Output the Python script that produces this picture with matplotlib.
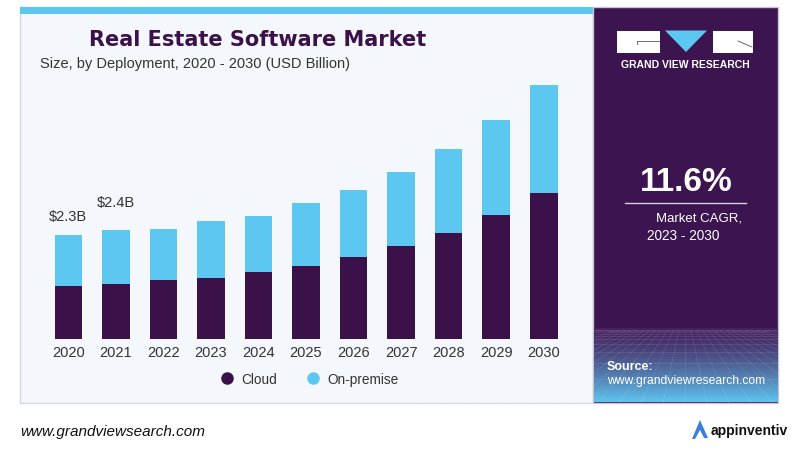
"""
Real Estate Software Market 柱状堆叠图 (Grand View Research 风格)
"""
import matplotlib
matplotlib.use("Agg")
import matplotlib.pyplot as plt
from matplotlib.patches import Rectangle, Polygon
from matplotlib.lines import Line2D
import numpy as np

# 数据
years = ["2020", "2021", "2022", "2023", "2024", "2025",
         "2026", "2027", "2028", "2029", "2030"]
cloud = [1.16, 1.22, 1.30, 1.35, 1.49, 1.62, 1.80, 2.05, 2.35, 2.74, 3.22]
on_premise = [1.14, 1.19, 1.13, 1.25, 1.23, 1.38, 1.48, 1.63, 1.84, 2.09, 2.39]
value_labels = {0: "$2.3B", 1: "$2.4B"}

DARK = "#3a1149"
BLUE = "#5cc8f2"
PANEL = "#f4f7fb"
W, H = 800, 456

plt.rcParams['font.family'] = ['Liberation Sans', 'DejaVu Sans']

fig = plt.figure(figsize=(8, 4.56), dpi=100)
fig.patch.set_facecolor("white")

# 背景坐标系, 像素坐标
bg = fig.add_axes([0, 0, 1, 1])
bg.set_xlim(0, W)
bg.set_ylim(H, 0)
bg.axis("off")

# 左侧浅色面板
bg.add_patch(Rectangle((20, 8), 573, 396, facecolor=PANEL, edgecolor="#d5d9de", lw=1))
bg.add_patch(Rectangle((20, 8), 573, 6.5, facecolor=BLUE, edgecolor="none"))

# 右侧深色面板 + 底部渐变
bg.add_patch(Rectangle((593, 8), 185, 396, facecolor="#3b1450", edgecolor="#c9c3d6", lw=1))
grad = np.linspace(0, 1, 100).reshape(-1, 1)
c0 = np.array([0x44, 0x22, 0x5e]) / 255
c1 = np.array([0x5e, 0xc4, 0xee]) / 255
img = c0[None, None, :] * (1 - grad[:, :, None] ** 1.3) + c1[None, None, :] * grad[:, :, None] ** 1.3
bg.imshow(img, extent=(593.5, 777.5, 403.5, 330), aspect="auto", zorder=2)
# 网格纹理
for k in range(-12, 14):
    bg.plot([685 + k * 6, 685 + k * 22], [332, 404], color="white", alpha=0.12, lw=0.5, zorder=3)
for yy in np.geomspace(1, 74, 12):
    bg.plot([594, 777], [330 + yy, 330 + yy], color="white", alpha=0.12, lw=0.5, zorder=3)

# GVR 标志
bg.add_patch(Rectangle((617, 31.5), 43, 22, facecolor="white", edgecolor="none", zorder=4))
bg.add_patch(Polygon([[665, 31.5], [707, 31.5], [686, 53]], facecolor=BLUE, edgecolor="none", zorder=4))
bg.add_patch(Rectangle((713, 31.5), 40, 22, facecolor="white", edgecolor="none", zorder=4))
bg.plot([637, 659], [42, 42], color="#555555", lw=0.6, zorder=5)
bg.plot([637, 637], [42, 45], color="#555555", lw=0.6, zorder=5)
bg.plot([738, 752], [42, 48], color="#555555", lw=0.6, zorder=5)
bg.text(685, 64.5, "GRAND VIEW RESEARCH", color="white", fontsize=7.5, fontweight="bold",
        ha="center", va="center", zorder=5)

# CAGR
bg.text(686, 183, "11.6%", color="white", fontsize=24, fontweight="bold",
        ha="center", va="center", zorder=5)
bg.plot([625, 746], [204, 204], color="#d8d0e0", lw=1, zorder=5)
bg.text(742, 218.5, "Market CAGR,", color="white", fontsize=9.5, ha="right", va="center", zorder=5)
bg.text(647, 236, "2023 - 2030", color="white", fontsize=9.8, ha="left", va="center", zorder=5)

# 来源
bg.text(607, 367, "Source:", color="white", fontsize=9, fontweight="bold", ha="left", va="center", zorder=5)
bg.text(607, 381, "www.grandviewresearch.com", color="white", fontsize=8.7, ha="left", va="center", zorder=5)

# 标题
bg.text(258, 40, "Real Estate Software Market", color=DARK, fontsize=15, fontweight="heavy",
        family=["DejaVu Sans"], ha="center", va="center")
bg.text(40, 64, "Size, by Deployment, 2020 - 2030 (USD Billion)", color="#333333", fontsize=10.5,
        ha="left", va="center")

# 底部
bg.text(20, 432, "www.grandviewsearch.com", color="#111111", fontsize=11, style="italic",
        ha="left", va="center")
bg.add_patch(Polygon([[700, 421], [708, 439], [704, 439], [700, 431], [695, 440], [692, 440]],
                     facecolor="#3d7fe0", edgecolor="none"))
bg.text(711, 431, "appinventiv", color="#111111", fontsize=10, fontweight="bold",
        ha="left", va="center")

# 柱状图坐标系
pitch = 47.55
left_px = 68.3 - 0.75 * pitch
right_px = 543.8 + 0.75 * pitch
base_px = 340
scale = 45.3
ymax = 6.5
top_px = base_px - ymax * scale
ax = fig.add_axes([left_px / W, (H - base_px) / H, (right_px - left_px) / W, (base_px - top_px) / H])
ax.set_facecolor("none")
ax.set_xlim(-0.75, 10.75)
ax.set_ylim(0, ymax)

x = np.arange(len(years))
ax.bar(x, cloud, width=0.58, color=DARK, zorder=3)
ax.bar(x, on_premise, bottom=cloud, width=0.58, color=BLUE, zorder=3)

for i, lab in value_labels.items():
    tot = cloud[i] + on_premise[i]
    ax.text(i, tot + 0.42 if i == 0 else tot + 0.62, lab, fontsize=10.5, color="#333333",
            ha="center", va="center")

ax.set_xticks(x)
ax.set_xticklabels(years, fontsize=10.5, color="#333333")
ax.tick_params(axis="x", length=0, pad=4)
ax.set_yticks([])
for s in ax.spines.values():
    s.set_visible(False)

# 图例
handles = [Line2D([], [], marker="o", ls="none", color=DARK, markersize=8),
           Line2D([], [], marker="o", ls="none", color=BLUE, markersize=8)]
fig.legend(handles, ["Cloud", "On-premise"], loc="center", bbox_to_anchor=(306 / W, 1 - 380 / H),
           ncol=2, frameon=False, fontsize=9.8, handletextpad=0.1, columnspacing=1.6,
           labelcolor="#333333")

fig.savefig("out.png", dpi=100)
